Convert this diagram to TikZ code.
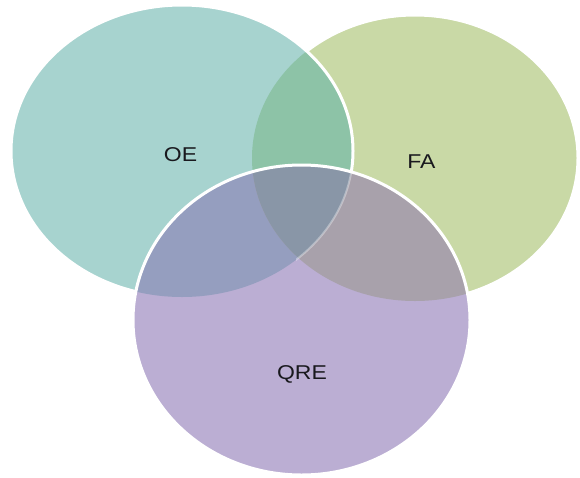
\documentclass[tikz,border=0pt]{standalone}
\usepackage{fontspec}
\setmainfont{Liberation Sans}
\definecolor{oec}{RGB}{167,211,207}
\definecolor{fac}{RGB}{201,217,166}
\definecolor{qrec}{RGB}{187,174,211}
\definecolor{oefac}{RGB}{141,195,167}
\definecolor{oeqrec}{RGB}{149,158,191}
\definecolor{faqrec}{RGB}{168,161,171}
\definecolor{allc}{RGB}{137,150,167}
\definecolor{txt}{RGB}{25,25,30}
\tikzset{
  rim/.style={draw=white, line width=3pt},
  lbl/.style={text=txt, font=\fontsize{20}{24}\selectfont, xscale=1.15, inner sep=0pt}
}
\def\oepath{(182,151) ellipse [x radius=171pt, y radius=146pt]}
\def\fapath{(415,158) ellipse [x radius=163pt, y radius=143pt]}
\def\qrepath{(301.5,320) ellipse [x radius=168.5pt, y radius=155pt]}
\begin{document}
\begin{tikzpicture}[x=1pt,y=-1pt]
\useasboundingbox[fill=white] (0,0) rectangle (580,477);
% FA
\fill[fac] \fapath;
\draw[rim] \fapath;
% OE
\fill[oec] \oepath;
\begin{scope}
  \clip \oepath;
  \fill[oefac] \fapath;
\end{scope}
\draw[rim] \oepath;
% QRE
\fill[qrec] \qrepath;
\begin{scope}
  \clip \qrepath;
  \fill[oeqrec] \oepath;
  \fill[faqrec] \fapath;
  \begin{scope}
    \clip \oepath;
    \fill[allc] \fapath;
  \end{scope}
  \begin{scope}
    \clip (296,160) rectangle (370,262);
    \draw[white, opacity=0.35, line width=2pt] \oepath;
  \end{scope}
\end{scope}
\draw[rim] \qrepath;
% labels
\node[lbl] (oe) at (180.5,155) {OE};
\node[lbl] (fa) at (421.5,161.5) {FA};
\node[lbl] (qre) at (302,374) {QRE};
\end{tikzpicture}
\end{document}
